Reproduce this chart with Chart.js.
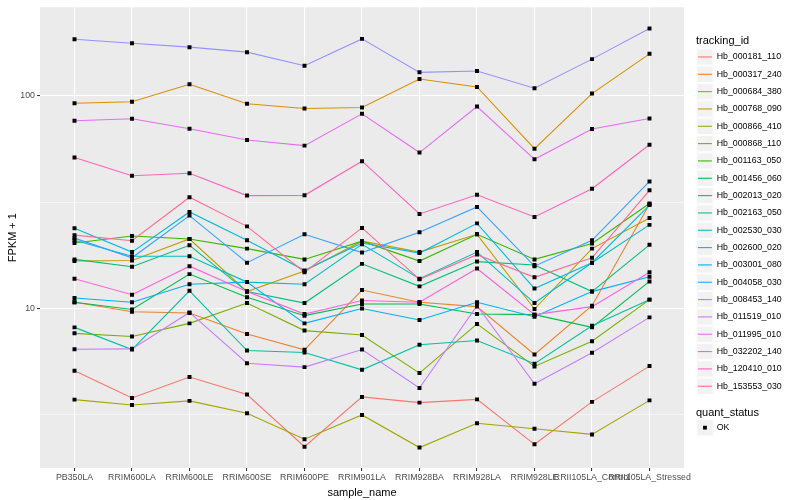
<!DOCTYPE html>
<html><head><meta charset="utf-8">
<script src="https://cdn.jsdelivr.net/npm/chart.js@4.4.0/dist/chart.umd.min.js"></script>
<style>html,body{margin:0;padding:0;background:#fff;}#wrap{width:800px;height:500px;}</style>
</head><body><div id="wrap"><canvas id="c" width="800" height="500"></canvas></div>
<script>
const categories = ["PB350LA","RRIM600LA","RRIM600LE","RRIM600SE","RRIM600PE","RRIM901LA","RRIM928BA","RRIM928LA","RRIM928LE","RRII105LA_Control","RRII105LA_Stressed"];

const Hb_000181_110 = [5.10, 3.80, 4.76, 3.94, 2.24, 3.84, 3.61, 3.74, 2.30, 3.64, 5.36];
const Hb_000317_240 = [10.7, 9.65, 9.52, 7.59, 6.39, 12.2, 10.7, 10.2, 6.08, 10.3, 30.9];
const Hb_000684_380 = [92.1, 93.5, 113.0, 91.5, 87.0, 87.9, 119.7, 109.8, 56.3, 102.2, 157.1];
const Hb_000768_090 = [16.7, 16.8, 21.2, 12.0, 15.0, 20.7, 18.4, 22.3, 9.94, 19.1, 26.6];
const Hb_000866_410 = [3.73, 3.52, 3.68, 3.22, 2.43, 3.16, 2.22, 2.89, 2.72, 2.56, 3.70];
const Hb_000868_110 = [7.64, 7.38, 8.51, 10.6, 7.87, 7.51, 4.97, 8.46, 5.34, 7.01, 11.0];
const Hb_001163_050 = [20.3, 21.9, 21.2, 19.1, 17.0, 20.7, 16.7, 22.3, 17.0, 20.2, 31.1];
const Hb_001456_060 = [10.7, 9.89, 14.5, 11.3, 9.25, 10.5, 10.5, 9.41, 9.35, 8.15, 13.4];
const Hb_002013_020 = [17.0, 15.7, 19.8, 12.0, 10.6, 16.2, 12.7, 16.6, 16.0, 12.0, 19.9];
const Hb_002163_050 = [8.15, 6.41, 12.1, 6.34, 6.21, 5.15, 6.75, 7.07, 5.50, 8.30, 11.0];
const Hb_002530_030 = [20.9, 17.6, 17.6, 13.3, 13.0, 20.0, 13.8, 18.4, 10.6, 16.4, 24.7];
const Hb_002600_020 = [23.8, 18.4, 28.4, 20.9, 15.1, 20.3, 18.2, 25.1, 12.4, 16.4, 30.6];
const Hb_003001_080 = [11.2, 10.7, 13.0, 13.3, 8.51, 10.0, 8.83, 10.7, 9.15, 12.0, 14.1];
const Hb_004058_030 = [21.4, 17.3, 27.3, 16.4, 22.3, 18.3, 22.8, 30.0, 15.8, 20.9, 39.5];
const Hb_008453_140 = [184.1, 176.3, 168.9, 160.0, 138.1, 184.7, 128.6, 130.5, 108.3, 148.4, 206.5];
const Hb_011519_010 = [6.43, 6.46, 9.58, 5.53, 5.30, 6.41, 4.23, 10.3, 4.43, 6.19, 9.08];
const Hb_011995_010 = [76.2, 77.8, 69.9, 61.9, 58.2, 82.1, 54.0, 88.8, 50.2, 69.7, 78.1];
const Hb_032202_140 = [13.8, 11.6, 15.8, 12.0, 9.41, 10.9, 10.7, 15.4, 9.35, 10.2, 14.8];
const Hb_120410_010 = [51.2, 42.0, 43.2, 33.9, 34.0, 49.2, 27.8, 34.2, 26.9, 36.5, 58.8];
const Hb_153553_030 = [22.1, 20.8, 33.3, 24.3, 14.8, 23.9, 13.7, 17.9, 14.0, 17.3, 35.9];

const seriesNames = ["Hb_000181_110","Hb_000317_240","Hb_000684_380","Hb_000768_090","Hb_000866_410","Hb_000868_110","Hb_001163_050","Hb_001456_060","Hb_002013_020","Hb_002163_050","Hb_002530_030","Hb_002600_020","Hb_003001_080","Hb_004058_030","Hb_008453_140","Hb_011519_010","Hb_011995_010","Hb_032202_140","Hb_120410_010","Hb_153553_030"];
const seriesValues = [Hb_000181_110,Hb_000317_240,Hb_000684_380,Hb_000768_090,Hb_000866_410,Hb_000868_110,Hb_001163_050,Hb_001456_060,Hb_002013_020,Hb_002163_050,Hb_002530_030,Hb_002600_020,Hb_003001_080,Hb_004058_030,Hb_008453_140,Hb_011519_010,Hb_011995_010,Hb_032202_140,Hb_120410_010,Hb_153553_030];
const seriesColors = ["#F8766D","#EA8331","#D89000","#C09B00","#A3A500","#7CAE00","#39B600","#00BB4E","#00BF7D","#00C1A3","#00BFC4","#00BAE0","#00B0F6","#35A2FF","#9590FF","#C77CFF","#E76BF3","#FA62DB","#FF62BC","#FF6C91"];

const yMajorTicks = [10, 100];
const yMinorTicks = [3.1623, 31.623];
const statusLevels = ["OK"];

const FONT = '"Liberation Sans", Arial, Helvetica, sans-serif';
Chart.defaults.font.family = FONT;

const datasets = [];
seriesValues.forEach((vals, i) => {
  datasets.push({
    label: seriesNames[i],
    data: vals.map((v, j) => ({x: j, y: v})),
    borderColor: seriesColors[i],
    borderWidth: 1.1,
    pointRadius: 0,
    showLine: true,
    fill: false,
    tension: 0,
    order: 100 - i
  });
});
seriesValues.forEach((vals, i) => {
  datasets.push({
    label: seriesNames[i] + ' pts',
    data: vals.map((v, j) => ({x: j, y: v})),
    showLine: false,
    pointStyle: 'rect',
    pointRadius: 2.8,
    pointBackgroundColor: '#000000',
    pointBorderWidth: 0,
    borderColor: '#000000',
    order: 0
  });
});

const panelBg = {
  id: 'panelBg',
  beforeDraw(chart) {
    const {ctx, chartArea: a} = chart;
    ctx.save();
    ctx.fillStyle = '#EBEBEB';
    ctx.fillRect(a.left, a.top, a.right - a.left, a.bottom - a.top);
    ctx.restore();
  }
};

const ggLegend = {
  id: 'ggLegend',
  afterDraw(chart) {
    const ctx = chart.ctx;
    ctx.save();
    ctx.textAlign = 'left';
    ctx.textBaseline = 'middle';
    ctx.fillStyle = '#000';
    ctx.font = '11px ' + FONT;
    ctx.fillText('tracking_id', 696, 40.7);
    const keyX = 696.3, keyW = 17.3, rowH = 17.33, y0 = 48.3;
    seriesNames.forEach((n, i) => {
      const y = y0 + i * rowH;
      ctx.fillStyle = '#F2F2F2';
      ctx.fillRect(keyX, y, keyW, rowH);
      ctx.strokeStyle = '#FFFFFF';
      ctx.lineWidth = 1;
      ctx.strokeRect(keyX + 0.5, y + 0.5, keyW - 1, rowH - 1);
      ctx.strokeStyle = seriesColors[i];
      ctx.lineWidth = 1.1;
      ctx.beginPath();
      ctx.moveTo(keyX + 1.7, y + rowH / 2);
      ctx.lineTo(keyX + keyW - 1.7, y + rowH / 2);
      ctx.stroke();
      ctx.fillStyle = '#000';
      ctx.font = '8.8px ' + FONT;
      ctx.fillText(n, 716.7, y + rowH / 2);
    });
    ctx.font = '11px ' + FONT;
    ctx.fillStyle = '#000';
    ctx.fillText('quant_status', 696, 412.7);
    statusLevels.forEach((s, i) => {
      const y = 419 + i * rowH;
      ctx.fillStyle = '#F2F2F2';
      ctx.fillRect(keyX, y, keyW, rowH);
      ctx.strokeStyle = '#FFFFFF';
      ctx.lineWidth = 1;
      ctx.strokeRect(keyX + 0.5, y + 0.5, keyW - 1, rowH - 1);
      ctx.fillStyle = '#000';
      ctx.fillRect(keyX + keyW / 2 - 1.9, y + rowH / 2 - 1.9, 3.8, 3.8);
      ctx.font = '8.8px ' + FONT;
      ctx.fillText(s, 716.7, y + rowH / 2);
    });
    ctx.restore();
  }
};

const isMajor = v => yMajorTicks.some(m => Math.abs(m - v) < 1e-6);

new Chart(document.getElementById('c'), {
  type: 'scatter',
  data: {datasets},
  plugins: [panelBg, ggLegend],
  options: {
    responsive: false,
    animation: false,
    events: [],
    layout: {padding: {top: 5, right: 116, left: 0, bottom: 0}},
    plugins: {legend: {display: false}, tooltip: {enabled: false}},
    scales: {
      x: {
        type: 'linear',
        min: -0.6,
        max: 10.6,
        afterBuildTicks: s => { s.ticks = categories.map((c, i) => ({value: i})); },
        afterFit: s => { s.height = 32; },
        ticks: {
          autoSkip: false, maxRotation: 0, minRotation: 0, padding: 1,
          color: '#4D4D4D', font: {size: 8.8},
          callback: v => categories[v]
        },
        grid: {color: '#FFFFFF', lineWidth: 1.07, tickLength: 3, tickColor: '#333333', tickWidth: 1.07},
        border: {display: false},
        title: {display: true, text: 'sample_name', color: '#000000', font: {size: 11}, padding: {top: 4, bottom: 0}}
      },
      y: {
        type: 'logarithmic',
        min: 1.78,
        max: 260,
        afterBuildTicks: s => { s.ticks = yMinorTicks.concat(yMajorTicks).sort((a, b) => a - b).map(v => ({value: v})); },
        afterFit: s => { s.width = 40; },
        ticks: {
          autoSkip: false, padding: 2, color: '#4D4D4D', font: {size: 8.8},
          callback: v => isMajor(v) ? String(Math.round(v)) : ''
        },
        grid: {
          color: '#FFFFFF',
          lineWidth: c => (c.tick && isMajor(c.tick.value)) ? 1.07 : 0.53,
          tickLength: 3,
          tickColor: c => (c.tick && isMajor(c.tick.value)) ? '#333333' : 'rgba(0,0,0,0)',
          tickWidth: 1.07
        },
        border: {display: false},
        title: {display: true, text: 'FPKM + 1', color: '#000000', font: {size: 11}, padding: {top: 6, bottom: 0}}
      }
    }
  }
});
</script></body></html>
